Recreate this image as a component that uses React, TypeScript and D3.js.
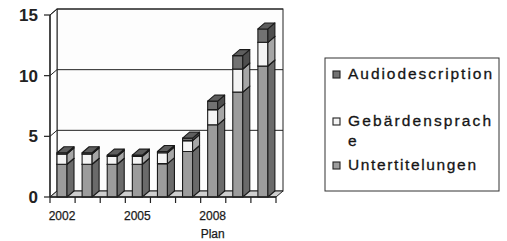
import { scaleBand, scaleLinear, select } from 'd3';
import React, { useEffect, useRef } from 'react';

const years = ['2002', '2003', '2004', '2005', '2006', '2007', '2008', '2009', '2010'];
const xLabels = ['2002', '', '', '2005', '', '', '2008|Plan', '', ''];
const untertitelungen = [2.7, 2.7, 2.7, 2.7, 2.75, 3.75, 5.95, 8.65, 10.8];
const gebaerden = [0.85, 0.85, 0.65, 0.65, 0.9, 0.9, 1.25, 1.9, 1.95];
const audio = [0.1, 0.1, 0.1, 0.1, 0.1, 0.2, 0.7, 1.1, 1.1];
const yTicks = [0, 5, 10, 15];

const colors = [
  { front: '#9c9c9c', side: '#6a6a6a', top: '#888888' },
  { front: '#f4f4f4', side: '#a6a6a6', top: '#d8d8d8' },
  { front: '#727272', side: '#4e4e4e', top: '#5e5e5e' },
];

const W = 507;
const H = 241;
const DX = 7;
const DY = -6;
const FONT = '"Liberation Sans", Arial, sans-serif';

function renderChart(svgEl: SVGSVGElement | null) {
  const svg = select(svgEl);
  svg.selectAll('*').remove();

  const x = scaleBand().domain(years).range([50, 276]).padding(0);
  const y = scaleLinear().domain([0, 15]).range([197, 15]);
  const left = 50;
  const right = 276;

  svg.append('rect').attr('width', W).attr('height', H).attr('fill', '#fff');

  // back wall + side wall
  svg
    .append('rect')
    .attr('x', left + DX)
    .attr('y', y(15) + DY)
    .attr('width', right - left)
    .attr('height', y(0) - y(15))
    .attr('fill', '#fdfdfd')
    .attr('stroke', '#222');
  svg
    .append('path')
    .attr('d', `M${left},${y(0)}L${left},${y(15)}L${left + DX},${y(15) + DY}L${left + DX},${y(0) + DY}Z`)
    .attr('fill', '#fff')
    .attr('stroke', '#222');

  // gridlines
  yTicks.slice(1).forEach(v => {
    svg
      .append('path')
      .attr('d', `M${left},${y(v)}L${left + DX},${y(v) + DY}L${right + DX},${y(v) + DY}`)
      .attr('fill', 'none')
      .attr('stroke', '#222');
  });

  // floor
  svg
    .append('path')
    .attr('d', `M${left},${y(0)}L${right},${y(0)}L${right + DX},${y(0) + DY}L${left + DX},${y(0) + DY}Z`)
    .attr('fill', '#cfcfcf')
    .attr('stroke', '#222');

  // bars
  const series = [untertitelungen, gebaerden, audio];
  years.forEach((yr, i) => {
    const x0 = (x(yr) ?? 0) + 7;
    const w = 10;
    let base = 0;
    series.forEach((s, k) => {
      const v = s[i];
      const yb = y(base);
      const yt = y(base + v);
      const g = svg
        .append('g')
        .attr('stroke', '#1a1a1a')
        .attr('stroke-width', 1.1)
        .attr('stroke-linejoin', 'round');
      g.append('rect')
        .attr('x', x0)
        .attr('y', yt)
        .attr('width', w)
        .attr('height', yb - yt)
        .attr('fill', colors[k].front);
      g.append('path')
        .attr('d', `M${x0 + w},${yt}L${x0 + w + DX},${yt + DY}L${x0 + w + DX},${yb + DY}L${x0 + w},${yb}Z`)
        .attr('fill', colors[k].side);
      g.append('path')
        .attr('d', `M${x0},${yt}L${x0 + DX},${yt + DY}L${x0 + w + DX},${yt + DY}L${x0 + w},${yt}Z`)
        .attr('fill', colors[k].top);
      base += v;
    });
  });

  // axes
  svg
    .append('line')
    .attr('x1', left)
    .attr('x2', left)
    .attr('y1', y(0))
    .attr('y2', y(15))
    .attr('stroke', '#222')
    .attr('stroke-width', 1.3);
  svg
    .append('line')
    .attr('x1', left)
    .attr('x2', right)
    .attr('y1', y(0))
    .attr('y2', y(0))
    .attr('stroke', '#222')
    .attr('stroke-width', 1.3);

  yTicks.forEach(v => {
    svg
      .append('line')
      .attr('x1', left - 6)
      .attr('x2', left)
      .attr('y1', y(v))
      .attr('y2', y(v))
      .attr('stroke', '#222')
      .attr('stroke-width', 1.2);
    svg
      .append('text')
      .attr('x', 38)
      .attr('y', y(v))
      .attr('dy', '0.36em')
      .attr('text-anchor', 'end')
      .attr('font-family', FONT)
      .attr('font-size', 17)
      .attr('font-weight', 'bold')
      .attr('fill', '#222')
      .text(String(v));
  });

  const tickXs = [...years.map(yr => x(yr) ?? 0), right];
  tickXs.forEach(tx => {
    svg
      .append('line')
      .attr('x1', tx)
      .attr('x2', tx)
      .attr('y1', y(0))
      .attr('y2', y(0) + 6)
      .attr('stroke', '#222')
      .attr('stroke-width', 1.2);
  });

  years.forEach((yr, i) => {
    const lines = xLabels[i].split('|').filter(Boolean);
    lines.forEach((ln, j) => {
      svg
        .append('text')
        .attr('x', (x(yr) ?? 0) + 12)
        .attr('y', 220 + j * 18)
        .attr('text-anchor', 'middle')
        .attr('font-family', FONT)
        .attr('font-size', 12)
        .attr('fill', '#1a1a1a')
        .attr('stroke', '#1a1a1a')
        .attr('stroke-width', 0.25)
        .text(ln);
    });
  });

  // legend
  const lg = svg.append('g');
  lg.append('rect')
    .attr('x', 325)
    .attr('y', 58)
    .attr('width', 174)
    .attr('height', 133)
    .attr('fill', '#fff')
    .attr('stroke', '#333');
  const legendItems = [
    { k: 2, lines: ['Audiodescription'], y: 79, len: [144] },
    { k: 1, lines: ['Gebärdensprach', 'e'], y: 126, len: [143, 0] },
    { k: 0, lines: ['Untertitelungen'], y: 170, len: [128] },
  ];
  legendItems.forEach(it => {
    lg.append('rect')
      .attr('x', 333)
      .attr('y', it.y - 8)
      .attr('width', 7)
      .attr('height', 7)
      .attr('fill', colors[it.k].front)
      .attr('stroke', '#222')
      .attr('stroke-width', 1.1);
    it.lines.forEach((ln, j) => {
      const t = lg
        .append('text')
        .attr('x', 348)
        .attr('y', it.y + j * 20)
        .attr('font-family', FONT)
        .attr('font-size', 15.5)
        .attr('fill', '#151515')
        .attr('stroke', '#151515')
        .attr('stroke-width', 0.3)
        .text(ln);
      if (it.len[j]) t.attr('textLength', it.len[j]).attr('lengthAdjust', 'spacing');
    });
  });
}

export default function App() {
  const svgRef = useRef<SVGSVGElement>(null);
  useEffect(() => {
    renderChart(svgRef.current);
  }, []);
  return (
    <svg
      ref={svgRef}
      width={W}
      height={H}
      style={{ position: 'absolute', left: 0, top: 0, display: 'block' }}
    />
  );
}
